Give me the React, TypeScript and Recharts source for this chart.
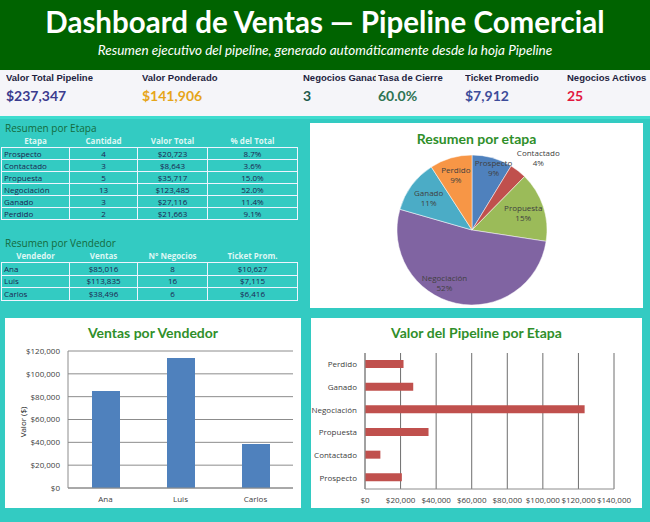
import React from "react";
import {
  BarChart,
  Bar,
  XAxis,
  YAxis,
  CartesianGrid,
  PieChart,
  Pie,
  Cell,
} from "recharts";

// ---- data ----
const stages = ["Prospecto", "Contactado", "Propuesta", "Negociación", "Ganado", "Perdido"];
const stageCounts = [4, 3, 5, 13, 3, 2];
const stageValues = [20723, 8643, 35717, 123485, 27116, 21663];
const stageShares = ["8.7%", "3.6%", "15.0%", "52.0%", "11.4%", "9.1%"];

const sellers = ["Ana", "Luis", "Carlos"];
const sellerSales = [85016, 113835, 38496];
const sellerDeals = [8, 16, 6];
const sellerTicket = [10627, 7115, 6416];

const kpiLabels = [
  "Valor Total Pipeline",
  "Valor Ponderado",
  "Negocios Ganados",
  "Tasa de Cierre",
  "Ticket Promedio",
  "Negocios Activos",
];
const kpiValues = ["$237,347", "$141,906", "3", "60.0%", "$7,912", "25"];

const ventasTicks = [0, 20000, 40000, 60000, 80000, 100000, 120000];
const pipelineTicks = [0, 20000, 40000, 60000, 80000, 100000, 120000, 140000];

// ---- styles ----
const TEAL = "#33CBC2";
const GREEN_TITLE = "#2F8F2A";
const stageColors = ["#4F81BD", "#C0504D", "#9BBB59", "#8064A2", "#4BACC6", "#F79646"];
// label placement per slice (radius factor, x shift), as Excel puts them
const labelRadius = [0.86, 1.22, 0.72, 0.72, 0.72, 0.76];
const labelShift = [4, 10, 0, -16, 0, 0];
const kpiX = [6, 142, 303, 378, 465, 567];
const kpiW = [130, 155, 73, 85, 100, 83];
const kpiColors = ["#3B3B8E", "#E6A51A", "#1E5B4C", "#2E7454", "#3D4C9A", "#E2183F"];

const money = (v: number) => "$" + v.toLocaleString("en-US");

const stageRows = stages.map((s, i) => [s, String(stageCounts[i]), money(stageValues[i]), stageShares[i]]);
const sellerRows = sellers.map((s, i) => [s, money(sellerSales[i]), String(sellerDeals[i]), money(sellerTicket[i])]);

const ventasData = sellers.map((s, i) => ({ name: s, value: sellerSales[i] }));
const pipelineData = stages.map((s, i) => ({ name: s, value: stageValues[i] }));

const colW = [68, 68, 70, 90];

function SmallTable({
  title,
  titleTop,
  headers,
  rows,
  headTop,
  rowH,
}: {
  title: string;
  titleTop: number;
  headers: string[];
  rows: string[][];
  headTop: number;
  rowH: number;
}) {
  return (
    <>
      <div
        style={{
          position: "absolute",
          left: 5,
          top: titleTop,
          fontSize: 10,
          color: "#136A3C",
          fontFamily: "Open Sans, sans-serif",
          whiteSpace: "nowrap",
        }}
      >
        {title}
      </div>
      <table
        style={{
          position: "absolute",
          left: 1,
          top: headTop,
          borderCollapse: "collapse",
          tableLayout: "fixed",
          fontFamily: "Open Sans, sans-serif",
          fontSize: 8,
          color: "#1D2450",
        }}
      >
        <colgroup>
          {colW.map((w, i) => (
            <col key={i} style={{ width: w }} />
          ))}
        </colgroup>
        <tbody>
          <tr style={{ height: 12 }}>
            {headers.map((h, i) => (
              <td key={i} style={{ textAlign: "center", color: "#DDF7F4", fontWeight: 700, padding: 0, lineHeight: "12px" }}>
                {h}
              </td>
            ))}
          </tr>
          {rows.map((r, ri) => (
            <tr key={ri} style={{ height: rowH }}>
              {r.map((c, ci) => (
                <td
                  key={ci}
                  style={{
                    border: "1px solid #EEF4FF",
                    padding: 0,
                    paddingLeft: ci === 0 ? 2 : 0,
                    textAlign: ci === 0 ? "left" : "center",
                    lineHeight: rowH - 2 + "px",
                    whiteSpace: "nowrap",
                  }}
                >
                  {c}
                </td>
              ))}
            </tr>
          ))}
        </tbody>
      </table>
    </>
  );
}

const RAD = Math.PI / 180;
function pieLabel(props: any) {
  const { cx, cy, midAngle, outerRadius, percent, name, index } = props;
  const r = outerRadius * labelRadius[index];
  const x = cx + r * Math.cos(-midAngle * RAD) + labelShift[index];
  const y = cy + r * Math.sin(-midAngle * RAD);
  return (
    <text x={x} y={y} textAnchor="middle" fontSize={8} fill="#404040" fontFamily="Open Sans, sans-serif">
      <tspan x={x} dy={-2}>{name}</tspan>
      <tspan x={x} dy={10}>{Math.round(percent * 100) + "%"}</tspan>
    </text>
  );
}

const panelTitle: React.CSSProperties = {
  position: "absolute",
  fontFamily: "Lato, sans-serif",
  fontWeight: 700,
  color: GREEN_TITLE,
  textAlign: "center",
  whiteSpace: "nowrap",
};

const axisTick = { fontSize: 8, fill: "#404040", fontFamily: "Open Sans, sans-serif" };

export default function App() {
  return (
    <div
      style={{
        position: "absolute",
        left: 0,
        top: 0,
        width: 650,
        height: 522,
        background: TEAL,
        overflow: "hidden",
        fontFamily: "Open Sans, sans-serif",
      }}
    >
      {/* Header */}
      <div style={{ position: "absolute", left: 0, top: 0, width: 650, height: 70, background: "#006300" }}>
        <div
          style={{
            position: "absolute",
            left: 0,
            width: 650,
            top: 4,
            textAlign: "center",
            color: "#fff",
            fontFamily: "Lato, sans-serif",
            fontWeight: 700,
            fontSize: 29.5,
          }}
        >
          Dashboard de Ventas — Pipeline Comercial
        </div>
        <div
          style={{
            position: "absolute",
            left: 0,
            width: 650,
            top: 42,
            textAlign: "center",
            color: "#fff",
            fontFamily: "Lato, sans-serif",
            fontStyle: "italic",
            fontSize: 13.5,
          }}
        >
          Resumen ejecutivo del pipeline, generado automáticamente desde la hoja Pipeline
        </div>
      </div>

      {/* KPI row */}
      <div style={{ position: "absolute", left: 0, top: 70, width: 650, height: 46, background: "#F5F5F9" }}>
        {kpiLabels.map((l, i) => (
          <div
            key={l}
            style={{
              position: "absolute",
              left: kpiX[i],
              top: 2,
              width: kpiW[i],
              overflow: "hidden",
              whiteSpace: "nowrap",
              fontFamily: "Liberation Sans, Arial, sans-serif",
              fontWeight: 700,
              fontSize: 9.5,
              color: "#1F1F3F",
            }}
          >
            {l}
          </div>
        ))}
        {kpiValues.map((v, i) => (
          <div
            key={i}
            style={{
              position: "absolute",
              left: kpiX[i],
              top: 17,
              fontFamily: "Lato, sans-serif",
              fontWeight: 700,
              fontSize: 14,
              color: kpiColors[i],
            }}
          >
            {v}
          </div>
        ))}
      </div>
      <div style={{ position: "absolute", left: 0, top: 116, width: 650, height: 3, background: "#3FDCCF" }} />

      {/* Tables */}
      <SmallTable
        title="Resumen por Etapa"
        titleTop={121}
        headers={["Etapa", "Cantidad", "Valor Total", "% del Total"]}
        rows={stageRows}
        headTop={135}
        rowH={12}
      />
      <SmallTable
        title="Resumen por Vendedor"
        titleTop={236}
        headers={["Vendedor", "Ventas", "N° Negocios", "Ticket Prom."]}
        rows={sellerRows}
        headTop={250}
        rowH={12.5}
      />

      {/* Pie panel */}
      <div style={{ position: "absolute", left: 310, top: 123, width: 333, height: 185, background: "#fff" }}>
        <div style={{ ...panelTitle, left: 0, width: 333, top: 7, fontSize: 14 }}>Resumen por etapa</div>
        <div style={{ position: "absolute", left: 0, top: 0 }}>
          <PieChart width={333} height={185}>
            <Pie
              data={pipelineData}
              dataKey="value"
              nameKey="name"
              cx={157}
              cy={102}
              outerRadius={75}
              startAngle={90}
              endAngle={-270}
              stroke="#fff"
              strokeWidth={0.5}
              label={pieLabel}
              labelLine={false}
              isAnimationActive={false}
            >
              {pipelineData.map((d, i) => (
                <Cell key={d.name} fill={stageColors[i]} />
              ))}
            </Pie>
          </PieChart>
        </div>
      </div>

      {/* Ventas por Vendedor */}
      <div style={{ position: "absolute", left: 5, top: 318, width: 296, height: 190, background: "#fff" }}>
        <div style={{ ...panelTitle, left: 0, width: 296, top: 6, fontSize: 14 }}>Ventas por Vendedor</div>
        <div
          style={{
            position: "absolute",
            left: 17,
            top: 104,
            transform: "translate(-50%, -50%) rotate(-90deg)",
            fontSize: 8,
            color: "#222",
            whiteSpace: "nowrap",
          }}
        >
          Valor ($)
        </div>
        <div style={{ position: "absolute", left: 0, top: 0 }}>
          <BarChart width={296} height={190} data={ventasData} margin={{ top: 33, right: 8, left: 0, bottom: 0 }}>
            <CartesianGrid vertical={false} stroke="#8C8C8C" />
            <XAxis dataKey="name" tick={axisTick} tickLine={false} axisLine={{ stroke: "#8C8C8C" }} height={20} />
            <YAxis
              width={63}
              domain={[0, 120000]}
              ticks={ventasTicks}
              tickFormatter={money}
              tick={axisTick}
              tickLine={false}
              axisLine={{ stroke: "#8C8C8C" }}
              interval={0}
            />
            <Bar dataKey="value" fill="#4F81BD" barSize={28} isAnimationActive={false} />
          </BarChart>
        </div>
      </div>

      {/* Valor del Pipeline por Etapa */}
      <div style={{ position: "absolute", left: 311, top: 318, width: 331, height: 190, background: "#fff" }}>
        <div style={{ ...panelTitle, left: 0, width: 331, top: 6, fontSize: 14 }}>Valor del Pipeline por Etapa</div>
        <div style={{ position: "absolute", left: 0, top: 0 }}>
          <BarChart
            width={331}
            height={190}
            data={pipelineData}
            layout="vertical"
            margin={{ top: 35, right: 28, left: 0, bottom: 0 }}
          >
            <CartesianGrid horizontal={false} stroke="#6E6E6E" />
            <XAxis
              type="number"
              domain={[0, 140000]}
              ticks={pipelineTicks}
              tickFormatter={money}
              tick={axisTick}
              tickLine={false}
              axisLine={{ stroke: "#8C8C8C" }}
              interval={0}
              height={19}
            />
            <YAxis
              type="category"
              dataKey="name"
              reversed
              width={54}
              tick={axisTick}
              tickLine={false}
              axisLine={{ stroke: "#8C8C8C" }}
              interval={0}
            />
            <Bar dataKey="value" fill="#C0504D" barSize={8} isAnimationActive={false} />
          </BarChart>
        </div>
      </div>
    </div>
  );
}
